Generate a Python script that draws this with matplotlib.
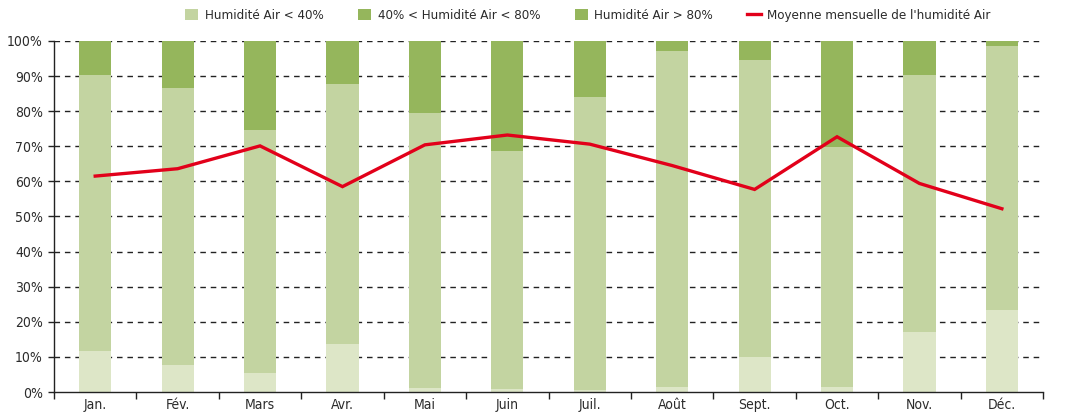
import matplotlib
matplotlib.use("Agg")
import matplotlib.pyplot as plt
import numpy as np
from matplotlib.patches import Patch
from matplotlib.lines import Line2D

plt.rcParams['font.family'] = ['DejaVu Sans']
plt.rcParams['font.stretch'] = 'condensed'

# donnees (en %)
mois = ['Jan.', 'Fév.', 'Mars', 'Avr.', 'Mai', 'Juin', 'Juil.', 'Août', 'Sept.', 'Oct.', 'Nov.', 'Déc.']
sous_40 = [11.7, 7.6, 5.3, 13.7, 1.2, 0.9, 0.5, 1.4, 10.0, 1.4, 17.1, 23.4]
cumul_80 = [90.3, 86.6, 74.6, 87.7, 79.5, 68.7, 84.0, 97.2, 94.7, 69.9, 90.3, 98.6]
moyenne = [61.5, 63.6, 70.1, 58.5, 70.4, 73.2, 70.6, 64.5, 57.7, 72.7, 59.4, 52.2]

entre_40_80 = [c - b for c, b in zip(cumul_80, sous_40)]
sur_80 = [100 - c for c in cumul_80]

c_bas = '#dde6c7'
c_mil = '#c3d4a1'
c_haut = '#95b65c'
c_rouge = '#e2001a'
c_texte = '#2b2b2b'
taille = 10

fig = plt.figure(figsize=(10.67, 4.15), dpi=100)
ax = fig.add_axes([0.0506, 0.0554, 0.927, 0.846])

x = np.arange(len(mois)) + 0.5
larg = 0.39

ax.bar(x, sous_40, width=larg, color=c_bas, zorder=2)
ax.bar(x, entre_40_80, width=larg, bottom=sous_40, color=c_mil, zorder=2)
ax.bar(x, sur_80, width=larg, bottom=cumul_80, color=c_haut, zorder=2)
ax.plot(x, moyenne, color=c_rouge, lw=2.4, zorder=3, solid_joinstyle='miter')

ax.set_xlim(0, len(mois))
ax.set_ylim(0, 100)
ax.set_yticks(np.arange(0, 101, 10))
ax.set_yticklabels([f'{v}%' for v in range(0, 101, 10)])
ax.set_xticks(x)
ax.set_xticklabels(mois)
ax.set_xticks(np.arange(0, len(mois) + 1), minor=True)

for v in range(10, 101, 10):
    ax.axhline(v, color='#222222', lw=1, ls=(0, (4, 3.5)), zorder=1)

ax.tick_params(axis='x', which='major', length=0, labelsize=taille, colors=c_texte, pad=4)
ax.tick_params(axis='x', which='minor', length=5, width=1, direction='out', color='#222222')
ax.tick_params(axis='y', length=4, width=1, labelsize=taille, color='#222222', labelcolor=c_texte, pad=4)

for s in ['top', 'right']:
    ax.spines[s].set_visible(False)
for s in ['left', 'bottom']:
    ax.spines[s].set_color('#222222')
    ax.spines[s].set_linewidth(1)

poignees = [
    Patch(facecolor=c_mil, edgecolor='none'),
    Patch(facecolor=c_haut, edgecolor='none'),
    Patch(facecolor=c_haut, edgecolor='none'),
    Line2D([0], [0], color=c_rouge, lw=2.4),
]
textes = ['Humidité Air < 40%', '40% < Humidité Air < 80%', 'Humidité Air > 80%',
          "Moyenne mensuelle de l'humidité Air"]
leg = fig.legend(poignees, textes, loc='center', bbox_to_anchor=(0.551, 0.963), ncol=4,
                 frameon=False, fontsize=9.5, handlelength=1.0, handleheight=1.0,
                 handletextpad=0.5, columnspacing=2.6, labelcolor=c_texte)

fig.savefig('out.png', dpi=100)
